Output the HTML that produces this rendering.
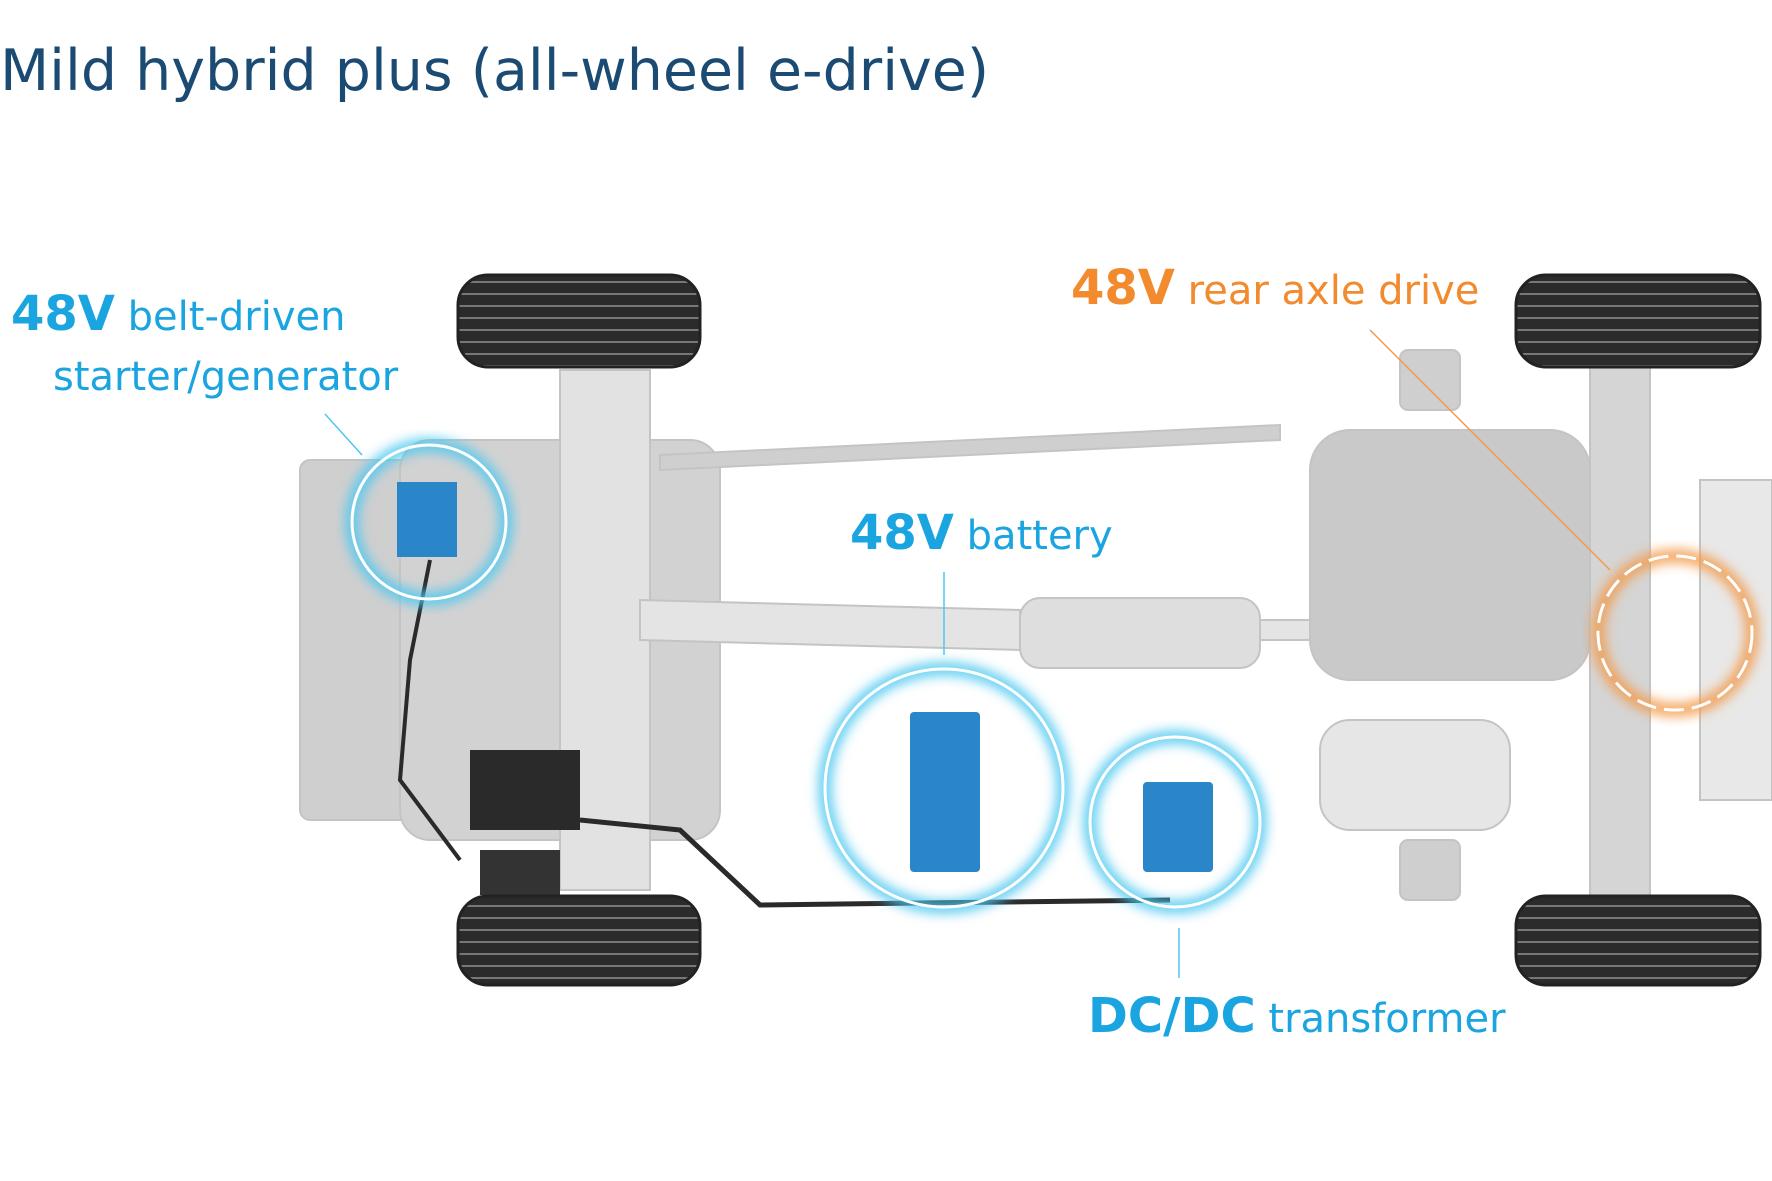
<!DOCTYPE html>
<html><head><meta charset="utf-8"><style>
html,body{margin:0;padding:0;background:#fff;width:1772px;height:1181px;overflow:hidden}
.t{position:absolute;font-family:"DejaVu Sans","Liberation Sans",sans-serif;white-space:nowrap}
</style></head><body>
<svg width="1772" height="1181" style="position:absolute;left:0;top:0">
<defs>
<pattern id="tread" width="8" height="12" patternUnits="userSpaceOnUse">
<rect width="8" height="12" fill="#2b2b2b"/><path d="M0 6 L8 6" stroke="#777" stroke-width="2"/></pattern>
<filter id="glow"><feGaussianBlur stdDeviation="6"/></filter>
</defs>
<g fill="#d9d9d9" stroke="#c4c4c4" stroke-width="2">
<rect x="300" y="460" width="110" height="360" rx="10" fill="#cfcfcf"/>
<rect x="400" y="440" width="320" height="400" rx="30" fill="#d2d2d2"/>
<rect x="560" y="370" width="90" height="520" fill="#e2e2e2"/>
<path d="M660 455 L1280 425 L1280 440 L660 470 Z" fill="#cfcfcf"/>
<path d="M640 600 L1020 610 L1020 650 L640 640 Z" fill="#e4e4e4"/>
<rect x="1020" y="598" width="240" height="70" rx="20" fill="#dedede"/>
<rect x="1260" y="620" width="90" height="20" fill="#e4e4e4"/>
<rect x="1310" y="430" width="280" height="250" rx="40" fill="#c9c9c9"/>
<rect x="1320" y="720" width="190" height="110" rx="30" fill="#e6e6e6"/>
<rect x="1590" y="340" width="60" height="560" fill="#d5d5d5"/>
<rect x="1700" y="480" width="72" height="320" fill="#e8e8e8"/>
<rect x="1400" y="350" width="60" height="60" rx="8" fill="#cfcfcf"/>
<rect x="1400" y="840" width="60" height="60" rx="8" fill="#cfcfcf"/>
</g>
<rect x="470" y="750" width="110" height="80" fill="#2a2a2a"/>
<rect x="480" y="850" width="80" height="45" fill="#333"/>
<path d="M580 820 L680 830 L760 905 L1170 900" stroke="#2a2a2a" stroke-width="5" fill="none"/>
<path d="M430 560 L410 660 L400 780 L460 860" stroke="#2a2a2a" stroke-width="4" fill="none"/>
<g stroke="#222" stroke-width="3">
<rect x="458" y="275" width="242" height="92" rx="30" fill="url(#tread)"/>
<rect x="458" y="896" width="242" height="89" rx="30" fill="url(#tread)"/>
<rect x="1516" y="275" width="244" height="92" rx="30" fill="url(#tread)"/>
<rect x="1516" y="896" width="244" height="89" rx="30" fill="url(#tread)"/>
</g>
<g fill="none">
<circle cx="429" cy="522" r="77" stroke="#4cc8f0" stroke-width="12" filter="url(#glow)"/>
<circle cx="429" cy="522" r="77" stroke="#fff" stroke-width="3"/>
<circle cx="944" cy="788" r="119" stroke="#4cc8f0" stroke-width="12" filter="url(#glow)"/>
<circle cx="944" cy="788" r="119" stroke="#fff" stroke-width="3"/>
<circle cx="1175" cy="822" r="85" stroke="#4cc8f0" stroke-width="12" filter="url(#glow)"/>
<circle cx="1175" cy="822" r="85" stroke="#fff" stroke-width="3"/>
<circle cx="1675" cy="633" r="77" stroke="#f39a4a" stroke-width="12" filter="url(#glow)"/>
<circle cx="1675" cy="633" r="77" stroke="#fff" stroke-width="3" stroke-dasharray="20 8"/>
</g>
<rect x="397" y="482" width="60" height="75" fill="#2a86c8"/>
<rect x="910" y="712" width="70" height="160" rx="4" fill="#2a86c8"/>
<rect x="1143" y="782" width="70" height="90" rx="4" fill="#2a86c8"/>
<g stroke="#4cc8f0" stroke-width="1.5">
<line x1="325" y1="414" x2="362" y2="455"/>
<line x1="944" y1="572" x2="944" y2="655"/>
<line x1="1179" y1="928" x2="1179" y2="978"/>
</g>
<line x1="1370" y1="330" x2="1610" y2="570" stroke="#f39a4a" stroke-width="1.5"/>
</svg>
<div class="t" style="left:0;top:38px;font-size:57px;color:#1b4a72;font-weight:500">Mild hybrid plus (all-wheel e-drive)</div>
<div class="t" style="left:11px;top:286px;font-size:40px;color:#1aa4e0"><b style="font-size:48px">48V</b> belt-driven</div>
<div class="t" style="left:53px;top:354px;font-size:40px;color:#1aa4e0">starter/generator</div>
<div class="t" style="left:1071px;top:260px;font-size:40px;color:#f28a2e"><b style="font-size:48px">48V</b> rear axle drive</div>
<div class="t" style="left:850px;top:505px;font-size:40px;color:#1aa4e0"><b style="font-size:48px">48V</b> battery</div>
<div class="t" style="left:1088px;top:988px;font-size:40px;color:#1aa4e0"><b style="font-size:48px">DC/DC</b> transformer</div>
</body></html>
